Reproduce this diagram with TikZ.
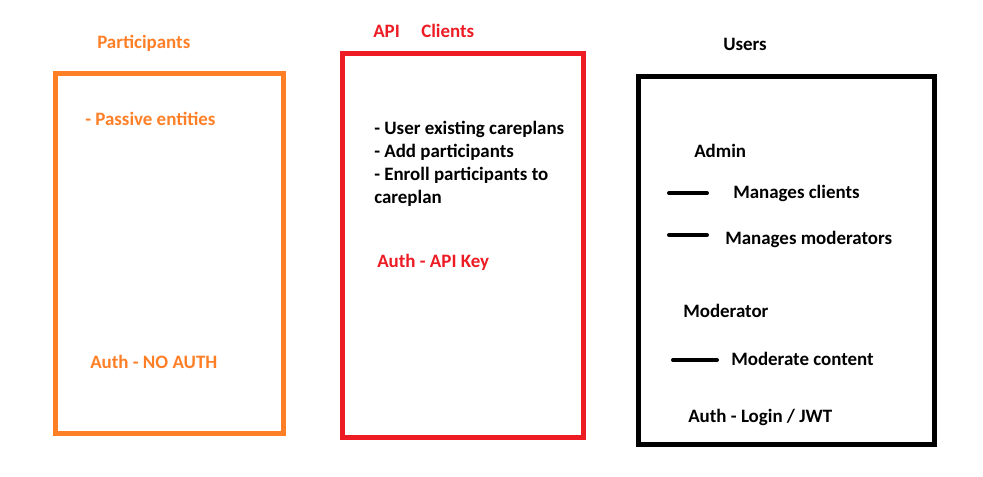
\documentclass[tikz,border=0pt]{standalone}
\usepackage{fontspec}
\setmainfont{Carlito}
\usepackage{xcolor}
\usetikzlibrary{positioning}
\definecolor{partorange}{HTML}{FF7F27}
\definecolor{clientred}{HTML}{ED1C24}
\tikzset{
  group/.style={draw,line width=3.75pt},
  lbl/.style={anchor=base west,inner sep=0pt,font=\fontsize{14.2}{17}\selectfont\bfseries},
  dashmark/.style={line width=3pt,line cap=round}
}
\begin{document}
\begin{tikzpicture}[x=0.75pt,y=-0.75pt]
    \useasboundingbox (0,0) rectangle (983,477);
    % Gruppen
    \draw[group,partorange] (55.5,74) rectangle (283,434);
    \draw[group,clientred] (342.5,54) rectangle (583,438);
    \draw[group,black] (638.5,76.5) rectangle (934,445);

    % Participants
    \node[lbl,text=partorange] (ptitle) at (97,49) {Participants};
    \node[lbl,text=partorange] (ppassive) at (85,126) {- Passive entities};
    \node[lbl,text=partorange] (pauth) at (90,369) {Auth - NO AUTH};

    % API Clients
    \node[lbl,text=clientred] (capi) at (373,38) {API};
    \node[lbl,text=clientred] (ctitle) at (421,38) {Clients};
    \foreach \y/\txt/\id in {135/- User existing careplans/a,158/- Add participants/b,181/- Enroll participants to/c,204/careplan/d}
        \node[lbl] (c\id) at (374,\y) {\txt};
    \node[lbl,text=clientred] (cauth) at (377,268) {Auth - API Key};

    % Users
    \node[lbl] (utitle) at (723,51) {Users};
    \node[lbl] (uadmin) at (694,158) {Admin};
    \node[lbl] (uclients) at (733,199) {Manages clients};
    \node[lbl] (umods) at (725,245) {Manages moderators};
    \node[lbl] (umod) at (683,318) {Moderator};
    \node[lbl] (ucontent) at (731,366) {Moderate content};
    \node[lbl] (uauth) at (688,423) {Auth - Login / JWT};
    \draw[dashmark] (669,193) -- (707,193);
    \draw[dashmark] (669,235) -- (707,235);
    \draw[dashmark] (673,360) -- (717,360);
\end{tikzpicture}
\end{document}
